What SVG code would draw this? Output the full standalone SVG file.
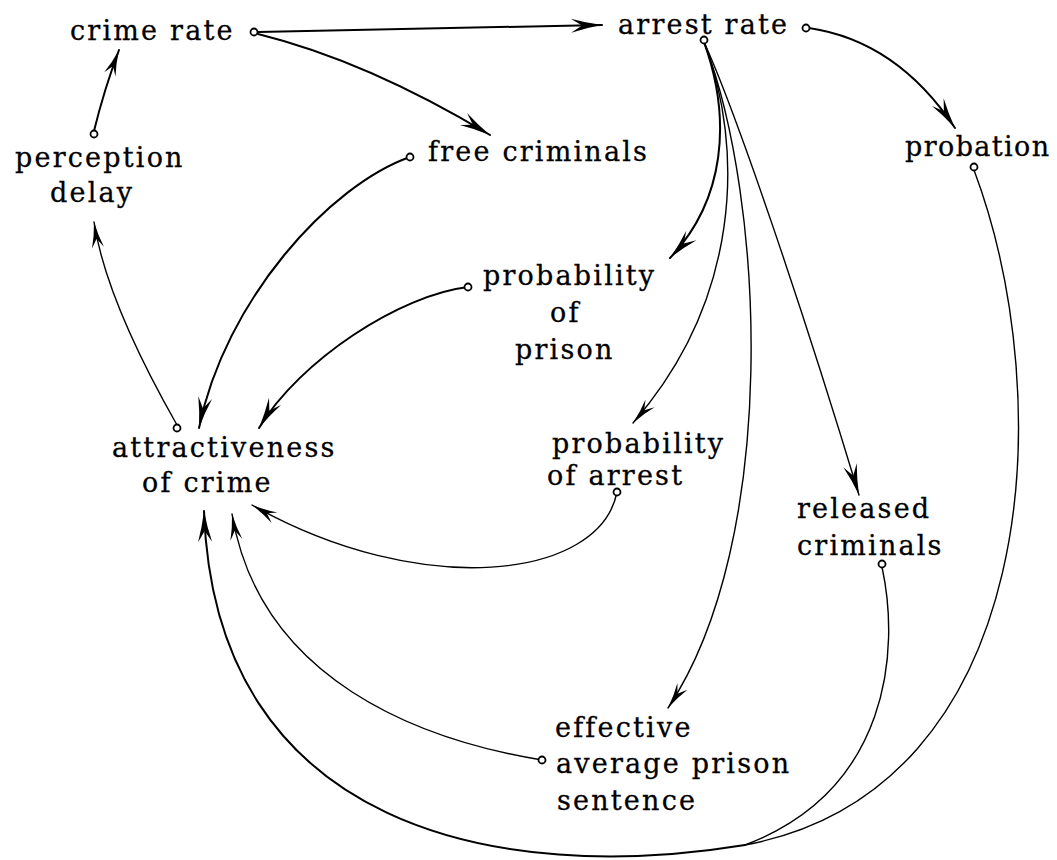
<svg xmlns="http://www.w3.org/2000/svg" width="1057" height="860" viewBox="0 0 1057 860">
  <style>
    .lbl { font-family: "DejaVu Serif", "Liberation Serif", serif; font-size: 27px; letter-spacing: 2.2px; fill: #000; stroke: #000; stroke-width: 0.3; }
    .tight { letter-spacing: 1.4px; }
    .link { fill: none; stroke: #000; stroke-width: 2; stroke-linecap: round; }
    .thin { fill: none; stroke: #000; stroke-width: 1.4; stroke-linecap: round; }
    .tap { fill: #fff; stroke: #000; stroke-width: 1.8; }
  </style>
  <defs>
    <!-- swept-back barbed heads: heavy for the main links, light for the finer ones -->
    <marker id="barb" viewBox="-36 -9 38 18" refX="0" refY="0" markerWidth="38" markerHeight="18" markerUnits="userSpaceOnUse" orient="auto">
      <path d="M0,0 Q-16,-2.5 -31,-7 L-20,0 L-31,7 Q-16,2.5 0,0 Z" fill="#000"/>
    </marker>
    <marker id="barbThin" viewBox="-36 -9 38 18" refX="0" refY="0" markerWidth="38" markerHeight="18" markerUnits="userSpaceOnUse" orient="auto">
      <path d="M0,0 Q-14,-2 -26,-6 L-17,0 L-26,6 Q-14,2 0,0 Z" fill="#000"/>
    </marker>
  </defs>

  <!-- links between the quantities -->
  <g id="connectors">
    <path class="link" d="M258,32 L602,25" marker-end="url(#barb)"/>
    <path class="link" d="M258,34 Q367,61 490,135" marker-end="url(#barb)"/>
    <path class="link" d="M94,131 Q104,90 119,50" marker-end="url(#barbThin)"/>
    <path class="link" d="M809,28 Q897,41 955,128" marker-end="url(#barb)"/>
    <path class="thin" d="M177,425 Q106,300 94,222" marker-end="url(#barbThin)"/>
    <path class="link" d="M410,157 C330,185 225,300 199,428" marker-end="url(#barb)"/>
    <path class="link" d="M468,287 C400,295 300,360 259,428" marker-end="url(#barb)"/>
    <!-- fan out of arrest rate -->
    <path class="link" d="M704,42 C732,120 725,200 670,258" marker-end="url(#barb)"/>
    <path class="thin" d="M704,42 C745,150 740,300 633,423" marker-end="url(#barbThin)"/>
    <path class="thin" d="M704,42 C765,200 780,540 668,708" marker-end="url(#barbThin)"/>
    <path class="thin" d="M704,42 C735,110 800,300 859,495" marker-end="url(#barb)"/>
    <!-- back into attractiveness of crime -->
    <path class="thin" d="M617,492 C600,580 420,600 252,505" marker-end="url(#barbThin)"/>
    <path class="thin" d="M542,760 C420,740 260,680 232,514" marker-end="url(#barbThin)"/>
    <path class="thin" d="M882,567 C900,650 890,790 745,845"/>
    <path class="thin" d="M974,170 C1060,400 1040,790 745,845"/>
    <path class="link" d="M745,845 C500,885 215,830 204,511" marker-end="url(#barb)"/>
  </g>

  <g id="crime-rate">
    <text class="lbl" x="70" y="40">crime rate</text>
    <circle class="tap" cx="254" cy="32" r="3.5"/>
  </g>
  <g id="arrest-rate">
    <text class="lbl" x="618" y="34">arrest rate</text>
    <circle class="tap" cx="806" cy="28" r="3.5"/>
    <circle class="tap" cx="704" cy="40" r="3.5"/>
  </g>
  <g id="perception-delay">
    <text class="lbl" x="15" y="167">perception</text>
    <text class="lbl" x="50" y="202">delay</text>
    <circle class="tap" cx="94" cy="134" r="3.5"/>
  </g>
  <g id="free-criminals">
    <text class="lbl" x="428" y="161">free criminals</text>
    <circle class="tap" cx="410" cy="157" r="3.5"/>
  </g>
  <g id="probation">
    <text class="lbl tight" x="905" y="156">probation</text>
    <circle class="tap" cx="974" cy="167" r="3.5"/>
  </g>
  <g id="probability-of-prison">
    <text class="lbl" x="483" y="285">probability</text>
    <text class="lbl" x="550" y="322">of</text>
    <text class="lbl" x="515" y="359">prison</text>
    <circle class="tap" cx="468" cy="287" r="3.5"/>
  </g>
  <g id="attractiveness-of-crime">
    <text class="lbl" x="112" y="457">attractiveness</text>
    <text class="lbl" x="142" y="492">of crime</text>
    <circle class="tap" cx="177" cy="428" r="3.5"/>
  </g>
  <g id="probability-of-arrest">
    <text class="lbl" x="552" y="453">probability</text>
    <text class="lbl" x="547" y="485">of arrest</text>
    <circle class="tap" cx="617" cy="492" r="3.5"/>
  </g>
  <g id="released-criminals">
    <text class="lbl" x="797" y="518">released</text>
    <text class="lbl" x="797" y="555">criminals</text>
    <circle class="tap" cx="882" cy="564" r="3.5"/>
  </g>
  <g id="effective-average-prison-sentence">
    <text class="lbl" x="555" y="737">effective</text>
    <text class="lbl" x="556" y="773">average prison</text>
    <text class="lbl" x="557" y="810">sentence</text>
    <circle class="tap" cx="542" cy="760" r="3.5"/>
  </g>
</svg>
